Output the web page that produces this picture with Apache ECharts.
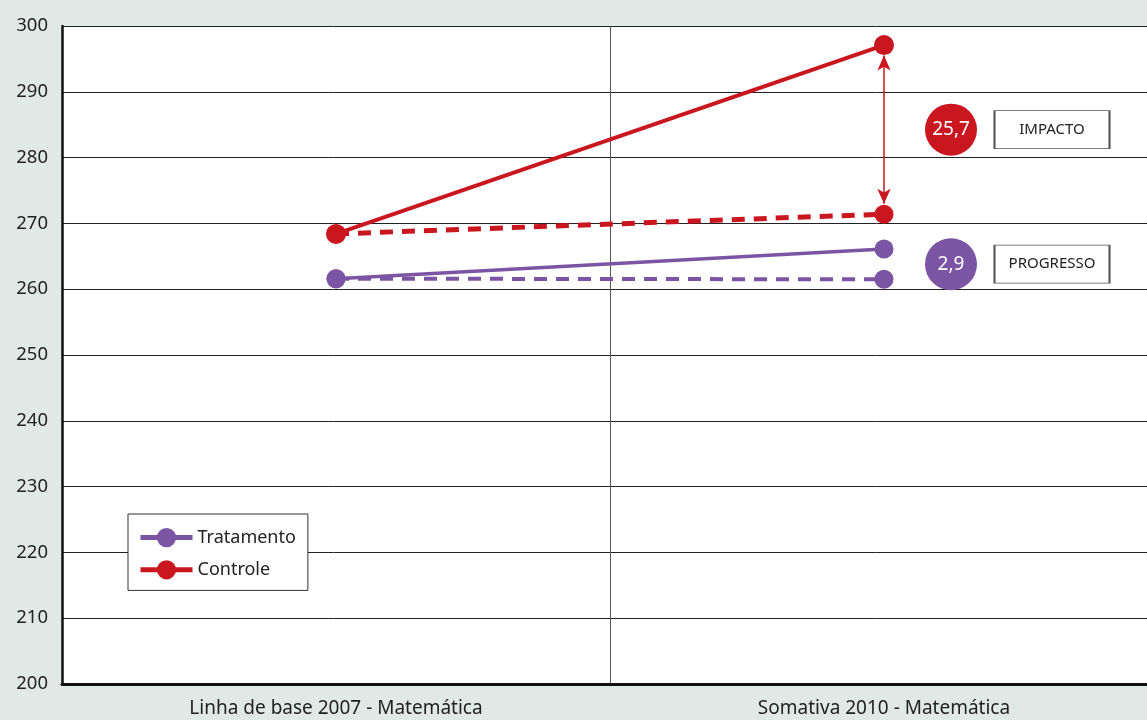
<!DOCTYPE html>
<html>
<head>
<meta charset="utf-8">
<script src="https://cdn.jsdelivr.net/npm/echarts@6/dist/echarts.min.js"></script>
<style>
  html, body { margin: 0; padding: 0; background: #e1e9e7; overflow: hidden; }
  #chart { width: 1147px; height: 720px; }
</style>
</head>
<body>
<div id="chart"></div>
<script>
// Categories and values
const categories = ['Linha de base 2007 - Matemática', 'Somativa 2010 - Matemática'];
const tratamento = [261.6, 266.1];          // solid purple
const tratamentoBase = [261.6, 261.5];      // dashed purple (reference trend)
const controle = [268.4, 297.1];            // solid red
const controleBase = [268.4, 271.4];        // dashed red (reference trend)
const impactoLabel = '25,7';
const progressoLabel = '2,9';
const yTicks = { min: 200, max: 300, step: 10 };

const RED = '#c9161f';
const PURPLE = '#7b55a3';
const FONT = '"Noto Sans", "Open Sans", sans-serif';

const chart = echarts.init(document.getElementById('chart'), null, { renderer: 'canvas' });

const midCtrl = (controle[1] + controleBase[1]) / 2;
const midTrat = (tratamento[1] + tratamentoBase[1]) / 2;
// keep arrow tips just outside the end dots (about 1.6 units ≈ 10px)
const arrowPad = 1.6;

function bubble(value, text, color) {
  return {
    coord: [1, value],
    symbol: 'circle',
    symbolSize: 52,
    symbolOffset: [67, 0],
    itemStyle: { color: color },
    label: { show: true, position: 'inside', formatter: text, color: '#fff', fontSize: 19, fontFamily: FONT }
  };
}
function tag(value, text) {
  return {
    coord: [1, value],
    symbol: 'rect',
    symbolSize: [115, 38],
    symbolOffset: [168, 0],
    itemStyle: { color: '#fff', borderColor: '#555', borderWidth: 1.2 },
    label: { show: true, position: 'inside', formatter: text, color: '#222', fontSize: 15, fontFamily: FONT }
  };
}

chart.setOption({
  backgroundColor: '#e1e9e7',
  animation: false,
  textStyle: { fontFamily: FONT },
  // the plot runs slightly past the right edge of the canvas
  grid: {
    left: 62, width: 1096, top: 26, bottom: 36,
    outerBoundsMode: 'none',
    show: true, backgroundColor: '#fff', borderWidth: 0
  },
  legend: {
    data: [
      { name: 'Tratamento', lineStyle: { width: 5 } },
      { name: 'Controle', lineStyle: { width: 5 } }
    ],
    orient: 'vertical',
    left: 128,
    top: 514,
    itemWidth: 52,
    itemHeight: 24,
    itemGap: 13,
    padding: [14, 12, 11, 10],
    backgroundColor: '#fff',
    borderColor: '#333',
    borderWidth: 1,
    borderRadius: 0,
    textStyle: { fontSize: 18, color: '#222', fontFamily: FONT }
  },
  xAxis: {
    type: 'category',
    data: categories,
    boundaryGap: true,
    axisLine: { show: true, lineStyle: { color: '#111', width: 3 } },
    axisTick: { show: false },
    axisLabel: { color: '#222', fontSize: 19, margin: 15, fontFamily: FONT },
    splitLine: { show: true, lineStyle: { color: '#555', width: 1 } }
  },
  yAxis: {
    type: 'value',
    min: yTicks.min,
    max: yTicks.max,
    interval: yTicks.step,
    axisLine: { show: true, lineStyle: { color: '#111', width: 2.5 } },
    axisTick: { show: false },
    axisLabel: { color: '#222', fontSize: 18.5, margin: 14, fontFamily: FONT },
    splitLine: { show: true, lineStyle: { color: '#222', width: 1 } }
  },
  series: [
    {
      name: 'Tratamento base',
      type: 'line',
      data: tratamentoBase,
      symbol: 'circle',
      symbolSize: 19,
      lineStyle: { color: PURPLE, width: 4, type: [13, 9] },
      itemStyle: { color: PURPLE },
      z: 2
    },
    {
      name: 'Tratamento',
      type: 'line',
      data: tratamento,
      symbol: 'circle',
      symbolSize: 19,
      lineStyle: { color: PURPLE, width: 3.5 },
      itemStyle: { color: PURPLE },
      z: 3,
      markPoint: {
        silent: true,
        data: [bubble(midTrat, progressoLabel, PURPLE), tag(midTrat, 'PROGRESSO')]
      }
    },
    {
      name: 'Controle base',
      type: 'line',
      data: controleBase,
      symbol: 'circle',
      symbolSize: 19,
      lineStyle: { color: RED, width: 5, type: [13, 9] },
      itemStyle: { color: RED },
      z: 4
    },
    {
      name: 'Controle',
      type: 'line',
      data: controle,
      symbol: 'circle',
      symbolSize: 20,
      lineStyle: { color: RED, width: 4 },
      itemStyle: { color: RED },
      z: 5,
      markLine: {
        silent: true,
        symbol: ['arrow', 'arrow'],
        symbolSize: [10, 15],
        lineStyle: { color: RED, width: 1.5, type: 'solid' },
        label: { show: false },
        data: [[
          { coord: [1, controle[1] - arrowPad] },
          { coord: [1, controleBase[1] + arrowPad] }
        ]]
      },
      markPoint: {
        silent: true,
        data: [bubble(midCtrl, impactoLabel, RED), tag(midCtrl, 'IMPACTO')]
      }
    }
  ]
});
</script>
</body>
</html>
